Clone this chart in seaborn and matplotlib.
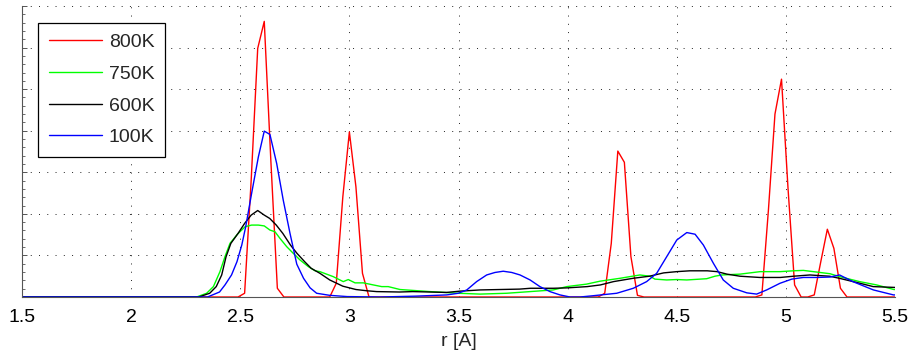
import numpy as np
import pandas as pd
import matplotlib
matplotlib.use("Agg")
import matplotlib.pyplot as plt
from matplotlib.ticker import MultipleLocator, NullFormatter
import seaborn as sns

# ---- data (r in Angstrom, g in arbitrary grid units) ----
r800 = [1.50, 2.49, 2.52, 2.55, 2.58, 2.61, 2.64, 2.67, 2.70, 2.91, 2.94, 2.97, 3.00, 3.03,
        3.06, 3.09, 4.14, 4.17, 4.20, 4.23, 4.26, 4.29, 4.32, 4.35, 4.86, 4.89, 4.92, 4.95,
        4.98, 5.01, 5.04, 5.07, 5.10, 5.13, 5.16, 5.19, 5.22, 5.25, 5.28, 5.50]
g800 = [0, 0, 0.09, 2.8, 5.98, 6.63, 3.3, 0.21, 0, 0, 0.33, 2.41, 3.97, 2.65,
        0.57, 0, 0, 0.09, 1.29, 3.51, 3.24, 0.97, 0.04, 0, 0, 0.05, 2.09, 4.4,
        5.24, 2.6, 0.29, 0, 0, 0.05, 0.85, 1.63, 1.17, 0.21, 0, 0]

r750 = [1.50, 2.30, 2.346, 2.377, 2.407, 2.43, 2.453, 2.487, 2.522, 2.552, 2.583, 2.61, 2.636,
        2.659, 2.682, 2.713, 2.743, 2.774, 2.812, 2.843, 2.865, 2.926, 2.972, 2.995, 3.026,
        3.064, 3.11, 3.148, 3.178, 3.232, 3.369, 3.499, 3.599, 3.721, 3.828, 3.934, 3.996,
        4.087, 4.148, 4.24, 4.331, 4.377, 4.40, 4.454, 4.50, 4.546, 4.637, 4.675, 4.706,
        4.79, 4.882, 4.973, 5.034, 5.08, 5.126, 5.202, 5.246, 5.338, 5.416, 5.495, 5.50]
g750 = [0, 0, 0.09, 0.25, 0.61, 0.97, 1.29, 1.51, 1.69, 1.73, 1.73, 1.71, 1.61,
        1.57, 1.41, 1.21, 1.05, 0.89, 0.73, 0.63, 0.61, 0.49, 0.37, 0.42, 0.34,
        0.34, 0.29, 0.25, 0.25, 0.18, 0.13, 0.09, 0.07, 0.09, 0.13, 0.17, 0.25,
        0.31, 0.38, 0.45, 0.53, 0.50, 0.43, 0.41, 0.42, 0.41, 0.44, 0.50, 0.53,
        0.55, 0.61, 0.61, 0.63, 0.64, 0.61, 0.56, 0.49, 0.37, 0.29, 0.18, 0.18]

r600 = [1.50, 2.31, 2.36, 2.39, 2.415, 2.435, 2.457, 2.49, 2.52, 2.55, 2.58, 2.61, 2.635,
        2.665, 2.695, 2.73, 2.76, 2.795, 2.825, 2.865, 2.91, 2.97, 3.03, 3.08, 3.125, 3.23,
        3.29, 3.445, 3.505, 3.60, 3.69, 3.78, 3.83, 3.935, 4.00, 4.09, 4.15, 4.21, 4.30,
        4.375, 4.44, 4.50, 4.56, 4.64, 4.685, 4.73, 4.79, 4.88, 4.975, 5.035, 5.11, 5.20,
        5.245, 5.34, 5.40, 5.50]
g600 = [0, 0, 0.09, 0.25, 0.53, 0.97, 1.29, 1.53, 1.77, 1.97, 2.08, 1.97, 1.89,
        1.73, 1.53, 1.25, 1.05, 0.85, 0.69, 0.57, 0.41, 0.26, 0.18, 0.15, 0.13, 0.12,
        0.13, 0.11, 0.14, 0.17, 0.18, 0.19, 0.21, 0.21, 0.22, 0.25, 0.29, 0.37, 0.45,
        0.50, 0.58, 0.61, 0.63, 0.63, 0.61, 0.55, 0.50, 0.47, 0.47, 0.50, 0.53, 0.50,
        0.45, 0.33, 0.25, 0.23]

r100 = [1.50, 2.35, 2.405, 2.43, 2.46, 2.485, 2.507, 2.525, 2.552, 2.583, 2.61, 2.636, 2.667,
        2.697, 2.728, 2.759, 2.79, 2.82, 2.85, 2.91, 2.99, 3.14, 3.30, 3.446, 3.499, 3.538,
        3.583, 3.629, 3.667, 3.705, 3.744, 3.782, 3.828, 3.873, 3.919, 3.965, 4.011, 4.057,
        4.116, 4.225, 4.301, 4.362, 4.408, 4.454, 4.50, 4.546, 4.584, 4.622, 4.668, 4.713,
        4.759, 4.821, 4.866, 4.912, 4.973, 5.027, 5.08, 5.141, 5.202, 5.246, 5.307, 5.401,
        5.493, 5.50]
g100 = [0, 0, 0.12, 0.29, 0.53, 0.85, 1.25, 1.69, 2.49, 3.37, 3.99, 3.91, 3.21,
        2.33, 1.53, 0.79, 0.45, 0.22, 0.09, 0.04, 0.01, 0.0, 0.02, 0.05, 0.09, 0.17,
        0.37, 0.53, 0.59, 0.62, 0.59, 0.53, 0.41, 0.25, 0.13, 0.05, 0.0, 0.0,
        0.03, 0.09, 0.21, 0.37, 0.57, 0.97, 1.37, 1.55, 1.51, 1.25, 0.81, 0.41,
        0.21, 0.10, 0.07, 0.17, 0.33, 0.43, 0.47, 0.47, 0.48, 0.53, 0.37, 0.17,
        0.05, 0.05]

labels = ["800K", "750K", "600K", "100K"]
colors = ["#ff0000", "#00ff00", "#000000", "#0000ff"]
x_ticks = [1.5, 2, 2.5, 3, 3.5, 4, 4.5, 5, 5.5]
x_ticklabels = ["1.5", "2", "2.5", "3", "3.5", "4", "4.5", "5", "5.5"]
x_label = "r [A]"

series = [(r800, g800), (r750, g750), (r600, g600), (r100, g100)]
frames = []
for lab, (rr, gg) in zip(labels, series):
    frames.append(pd.DataFrame({"r": rr, "g": gg, "T": lab}))
df = pd.concat(frames, ignore_index=True)

sns.set_style("white")
plt.rcParams["font.family"] = ["Liberation Sans", "DejaVu Sans"]

fig = plt.figure(figsize=(9.10, 3.51), dpi=100)
ax = fig.add_axes([22 / 910, 54 / 351, 873 / 910, 291 / 351])

sns.lineplot(data=df, x="r", y="g", hue="T", hue_order=labels,
             palette=dict(zip(labels, colors)), estimator=None, sort=False,
             linewidth=1.0, ax=ax, legend=True)

ax.set_xlim(1.5, 5.5)
ax.set_ylim(0, 7)
ax.set_xticks(x_ticks)
ax.set_xticklabels(x_ticklabels)
ax.yaxis.set_major_locator(MultipleLocator(1))
ax.yaxis.set_minor_locator(MultipleLocator(0.2))
ax.yaxis.set_major_formatter(NullFormatter())
ax.set_xlabel(x_label, fontsize=14, labelpad=5)
ax.set_ylabel("")

for s in ["top", "right"]:
    ax.spines[s].set_visible(False)
for s in ["left", "bottom"]:
    ax.spines[s].set_color("#555555")
    ax.spines[s].set_linewidth(0.8)

ax.grid(True, which="major", color="#222222", linestyle=(0, (1, 7.5)), linewidth=0.7)
ax.set_axisbelow(True)

ax.tick_params(axis="x", which="major", direction="in", length=6, width=0.7,
               color="#333333", labelsize=14, pad=9, labelcolor="black")
ax.tick_params(axis="y", which="major", direction="in", length=3.5, width=0.7,
               color="#555555", left=True)
ax.tick_params(axis="y", which="minor", direction="in", length=2, width=0.6,
               color="#555555", left=True)

handles, labs = ax.get_legend_handles_labels()
leg = ax.legend(handles, labs, loc="upper left",
                bbox_to_anchor=((38 - 22) / 873, (297 - 23) / 291),
                borderaxespad=0, fontsize=14, frameon=True, fancybox=False,
                edgecolor="black", framealpha=1, handlelength=2.75,
                handletextpad=0.35, labelspacing=0.72, borderpad=0.55)
leg.get_frame().set_linewidth(0.9)
for h in leg.get_lines():
    h.set_linewidth(1.0)

fig.savefig("out.png", dpi=100)
